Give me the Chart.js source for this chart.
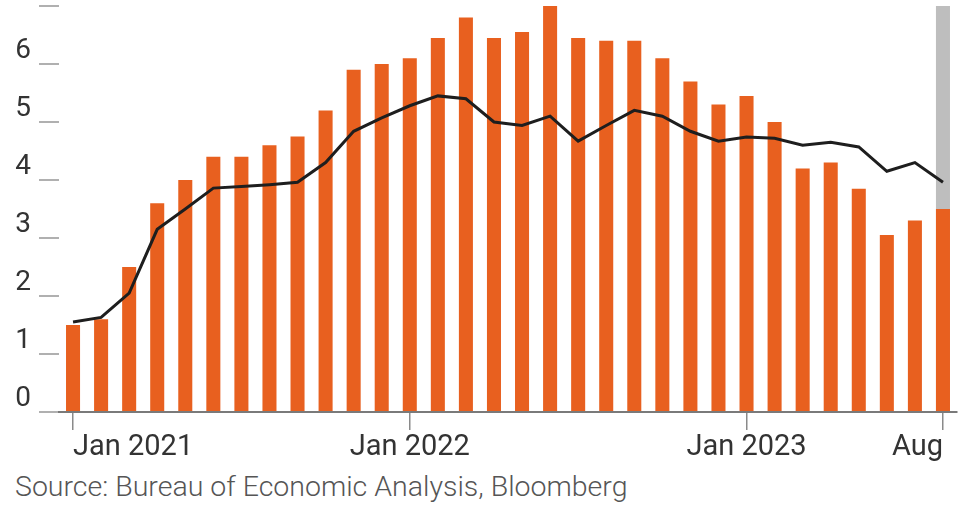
<!DOCTYPE html>
<html>
<head>
<meta charset="utf-8">
<script src="https://cdn.jsdelivr.net/npm/chart.js@4"></script>
<style>
  body { margin: 0; background: #fff; width: 961px; height: 512px; overflow: hidden; position: relative; }
  #wrap { position: absolute; left: 0; top: 0; width: 961px; height: 462px; }
  #source { position: absolute; left: 15px; top: 473px; font: 300 28.5px Roboto, sans-serif; line-height: 1; color: #555; white-space: nowrap; }
</style>
</head>
<body>
<div id="wrap"><canvas id="chart"></canvas></div>
<div id="source">Source: Bureau of Economic Analysis, Bloomberg</div>
<script>
// months Jan 2021 .. Aug 2023
const months = [
    'Jan 2021', 'Feb 2021', 'Mar 2021', 'Apr 2021', 'May 2021', 'Jun 2021', 'Jul 2021', 'Aug 2021', 'Sep 2021', 'Oct 2021', 'Nov 2021', 'Dec 2021',
    'Jan 2022', 'Feb 2022', 'Mar 2022', 'Apr 2022', 'May 2022', 'Jun 2022', 'Jul 2022', 'Aug 2022', 'Sep 2022', 'Oct 2022', 'Nov 2022', 'Dec 2022',
    'Jan 2023', 'Feb 2023', 'Mar 2023', 'Apr 2023', 'May 2023', 'Jun 2023', 'Jul 2023', 'Aug 2023'
];
// which ticks get a label on the x axis
const tickLabels = { 'Jan 2021': 'Jan 2021', 'Jan 2022': 'Jan 2022', 'Jan 2023': 'Jan 2023', 'Aug 2023': 'Aug' };

// monthly values (bars)
const monthly = [1.5, 1.6, 2.5, 3.6, 4.0, 4.4, 4.4, 4.6, 4.75, 5.2, 5.9, 6.0,
    6.1, 6.45, 6.8, 6.45, 6.55, 7.1, 6.45, 6.4, 6.4, 6.1, 5.7, 5.3,
    5.45, 5.0, 4.2, 4.3, 3.85, 3.05, 3.3, 3.5];
// smoothed trend (line)
const trend = [1.55, 1.63, 2.05, 3.15, 3.5, 3.86, 3.89, 3.92, 3.96, 4.3, 4.84, 5.07,
    5.28, 5.45, 5.4, 5.0, 4.94, 5.1, 4.67, 4.94, 5.2, 5.1, 4.84, 4.67,
    4.74, 4.72, 4.6, 4.65, 4.57, 4.15, 4.3, 3.96];
// grey highlight behind the latest month
const highlight = [null, null, null, null, null, null, null, null, null, null, null, null,
    null, null, null, null, null, null, null, null, null, null, null, null,
    null, null, null, null, null, null, null, 7];

const yTicks = [0, 1, 2, 3, 4, 5, 6, 7];

const ctx = document.getElementById('chart').getContext('2d');
new Chart(ctx, {
    data: {
        labels: months,
        datasets: [
            {
                type: 'line',
                data: trend,
                borderColor: '#1e1e1e',
                borderWidth: 3,
                pointRadius: 0,
                tension: 0,
                order: 0
            },
            {
                type: 'bar',
                data: monthly,
                backgroundColor: '#e8601f',
                barPercentage: 0.5,
                categoryPercentage: 1.0,
                grouped: false,
                order: 1
            },
            {
                type: 'bar',
                data: highlight,
                backgroundColor: '#bebebe',
                barPercentage: 0.5,
                categoryPercentage: 1.0,
                grouped: false,
                order: 2
            }
        ]
    },
    options: {
        responsive: true,
        maintainAspectRatio: false,
        animation: false,
        layout: { padding: { top: 6, right: 4, left: 0, bottom: 0 } },
        plugins: {
            legend: { display: false },
            tooltip: { enabled: false }
        },
        scales: {
            x: {
                type: 'category',
                offset: true,
                grid: { offset: false, drawOnChartArea: false, tickLength: 18, color: '#8a8a8a', lineWidth: 1.5 },
                border: { color: '#7a7a7a', width: 2 },
                ticks: {
                    autoSkip: false,
                    maxRotation: 0,
                    align: 'inner',
                    padding: 0,
                    color: '#333',
                    font: { family: 'Roboto', size: 29 },
                    callback: function(value, index) {
                        return tickLabels[months[index]] ?? null;
                    }
                },
                afterFit: (scale) => {
                    scale.height = 50;
                    scale.paddingLeft = 0;
                    scale.paddingRight = 0;
                }
            },
            y: {
                min: 0,
                max: 7,
                afterBuildTicks: (scale) => { scale.ticks = yTicks.map(v => ({ value: v })); },
                grid: { drawOnChartArea: false, tickLength: 20, color: '#b0b0b0', lineWidth: 2 },
                border: { display: false },
                ticks: {
                    padding: 8,
                    labelOffset: -13,
                    color: '#333',
                    font: { family: 'Roboto', size: 28 }
                },
                afterFit: (scale) => {
                    scale.width = 59;
                    scale.paddingTop = 0;
                    scale.paddingBottom = 0;
                }
            }
        }
    }
});
</script>
</body>
</html>
